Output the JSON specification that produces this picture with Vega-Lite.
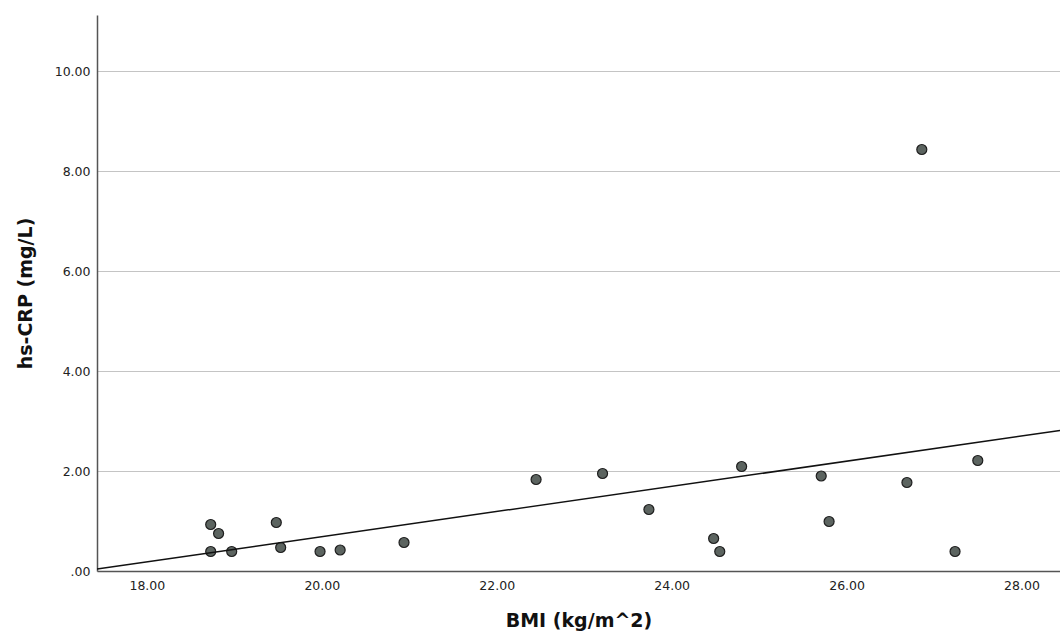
{
  "$schema": "https://vega.github.io/schema/vega-lite/v6.json",
  "autosize": "none",
  "width": 963,
  "height": 556,
  "padding": {"left": 97, "top": 15, "right": 0, "bottom": 63},
  "background": "white",
  "config": {
    "view": {"stroke": null},
    "font": "DejaVu Sans",
    "axis": {
      "labelFont": "DejaVu Sans",
      "titleFont": "DejaVu Sans",
      "labelFontSize": 12.5,
      "labelColor": "#222",
      "titleColor": "#111",
      "titleFontSize": 19,
      "titleFontWeight": "bold",
      "ticks": false,
      "domainColor": "#555",
      "domainWidth": 1.5,
      "gridColor": "#c4c4c4",
      "gridWidth": 1
    }
  },
  "data": {
    "values": [
      {"bmi": 18.73, "crp": 0.93},
      {"bmi": 18.82, "crp": 0.75},
      {"bmi": 18.73, "crp": 0.39},
      {"bmi": 18.97, "crp": 0.39},
      {"bmi": 19.48, "crp": 0.97},
      {"bmi": 19.53, "crp": 0.47},
      {"bmi": 19.98, "crp": 0.39},
      {"bmi": 20.21, "crp": 0.42},
      {"bmi": 20.94, "crp": 0.57},
      {"bmi": 22.45, "crp": 1.83},
      {"bmi": 23.21, "crp": 1.95},
      {"bmi": 23.74, "crp": 1.23},
      {"bmi": 24.48, "crp": 0.65},
      {"bmi": 24.55, "crp": 0.39},
      {"bmi": 24.8, "crp": 2.09},
      {"bmi": 25.71, "crp": 1.9},
      {"bmi": 25.8, "crp": 0.99},
      {"bmi": 26.69, "crp": 1.77},
      {"bmi": 27.24, "crp": 0.39},
      {"bmi": 27.5, "crp": 2.21},
      {"bmi": 26.86, "crp": 8.43}
    ]
  },
  "layer": [
    {
      "mark": {"type": "point", "filled": true, "size": 100, "fill": "#5c6460", "stroke": "#1e1e1e", "strokeWidth": 1.2, "opacity": 1, "fillOpacity": 1},
      "encoding": {
        "x": {
          "field": "bmi", "type": "quantitative",
          "scale": {"domain": [17.43, 28.44], "nice": false, "zero": false},
          "axis": {"values": [18, 20, 22, 24, 26, 28], "format": ".2f", "grid": false, "title": "BMI (kg/m^2)", "labelPadding": 8, "titlePadding": 20}
        },
        "y": {
          "field": "crp", "type": "quantitative",
          "scale": {"domain": [0, 11.12], "nice": false},
          "axis": {"values": [0, 2, 4, 6, 8, 10], "labelExpr": "datum.value == 0 ? '.00' : format(datum.value, '.2f')", "grid": true, "title": "hs-CRP (mg/L)", "labelPadding": 7, "titlePadding": 19}
        }
      }
    },
    {
      "transform": [{"regression": "crp", "on": "bmi", "extent": [17.43, 28.44]}],
      "mark": {"type": "line", "color": "#111", "strokeWidth": 1.5, "clip": true},
      "encoding": {
        "x": {"field": "bmi", "type": "quantitative"},
        "y": {"field": "crp", "type": "quantitative"}
      }
    }
  ]
}
